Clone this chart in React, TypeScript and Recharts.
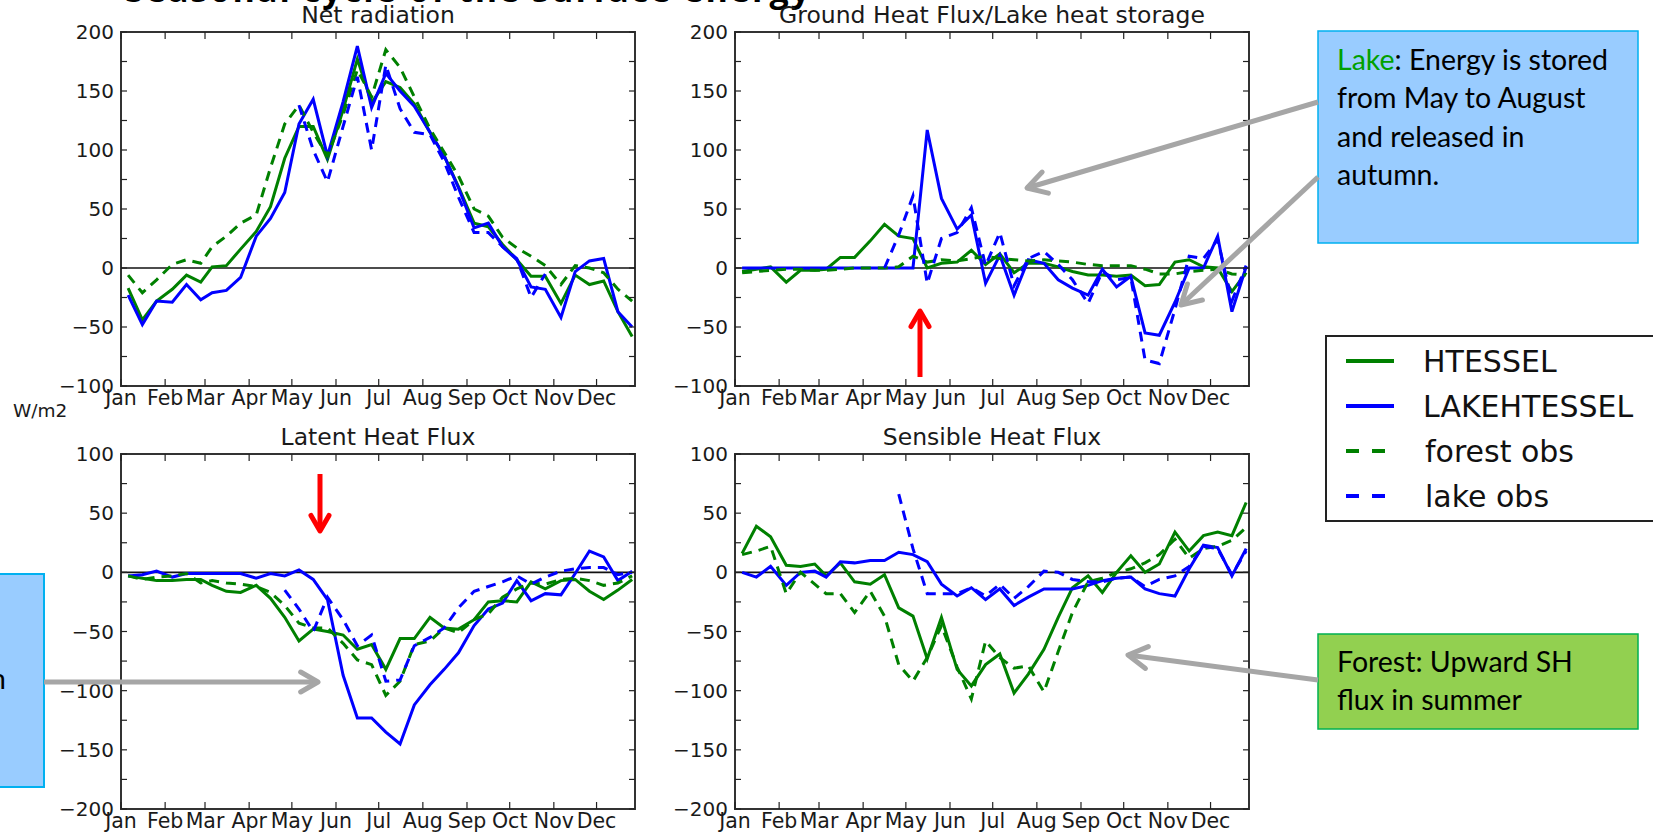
import React from 'react';
import { LineChart, Line, XAxis, YAxis, ReferenceLine, ReferenceArea } from 'recharts';

// ---------- categories ----------
const monthNames = ['Jan', 'Feb', 'Mar', 'Apr', 'May', 'Jun', 'Jul', 'Aug', 'Sep', 'Oct', 'Nov', 'Dec'];
const monthStarts = [0, 31, 59, 90, 120, 151, 181, 212, 243, 273, 304, 334];
// dekad (10-day) centres, day of year
const dekadDays = [5, 15, 25, 36, 46, 56, 64, 74, 84, 95, 105, 115, 125, 135, 145, 156, 166, 176, 186, 196, 206, 217, 227, 237, 248, 258, 268, 278, 288, 298, 309, 319, 329, 339, 349, 359];
const xDomain: [number, number] = [0, 361];
const topYTicks = [-100, -75, -50, -25, 0, 25, 50, 75, 100, 125, 150, 175, 200];
const bottomYTicks = [-200, -175, -150, -125, -100, -75, -50, -25, 0, 25, 50, 75, 100];

// ---------- Net radiation ----------
const netHtessel = [-17, -44, -28, -18, -6, -12, 1, 2, 16, 31, 52, 93, 120, 120, 92, 134, 177, 140, 158, 153, 139, 115, 95, 69, 38, 35, 20, 7, -7, -7, -30, -6, -14, -11, -37, -58];
const netLakeHtessel = [-23, -48, -28, -29, -14, -27, -21, -19, -8, 27, 42, 64, 122, 143, 95, 141, 188, 136, 165, 150, 137, 115, 95, 68, 34, 38, 18, 7, -16, -18, -42, -3, 6, 8, -37, -50];
const netForestObs = [-6, -21, -10, 3, 7, 4, 18, 27, 38, 45, 85, 122, 138, 115, 95, 130, 168, 145, 185, 170, 145, 118, 98, 78, 50, 44, 26, 17, 10, 2, -14, 2, 0, -4, -18, -28];
const netLakeObs = [null, null, null, null, null, null, null, null, null, null, null, null, 138, 100, 73, 120, 162, 100, 172, 135, 115, 113, 90, 60, 30, 30, 18, 8, -25, -5, null, null, null, null, null, null];

// ---------- Ground heat flux / lake heat storage ----------
const ghfHtessel = [-3, -1, 1, -12, -2, -2, -1, 9, 9, 23, 37, 27, 25, 0, 4, 5, 15, 3, 12, -4, 4, 4, 1, -3, -6, -6, -7, -6, -15, -14, 5, 7, 1, 0, -20, -4];
const ghfLakeHtessel = [0, 0, 0, 0, 0, 0, 0, 0, 0, 0, 0, 0, 0, 117, 59, 33, 45, -13, 11, -23, 7, 4, -10, -17, -23, -1, -16, -7, -55, -57, -29, 0, 0, 27, -37, 1];
const ghfForestObs = [-4, -3, -2, -1, -1, -2, -2, -1, 0, 0, 0, 1, 10, 5, 7, 6, 8, 10, 8, 7, 6, 7, 6, 5, 3, 2, 2, 2, -1, -5, -5, -3, -2, -1, -5, -6];
const ghfLakeObs = [null, null, null, null, null, null, null, null, null, null, 0, 28, 61, -13, 25, 30, 51, 2, 30, -15, 8, 14, 3, -10, -30, -3, -10, -8, -78, -81, -35, 10, 8, 24, -28, 2];

// ---------- Latent heat flux ----------
const latHtessel = [-3, -5, -7, -7, -6, -6, -11, -16, -17, -11, -22, -38, -58, -48, -50, -53, -65, -61, -82, -56, -56, -38, -47, -48, -40, -25, -24, -25, -8, -14, -7, -6, -16, -23, -15, -6];
const latLakeHtessel = [-3, -2, 1, -4, -1, -1, -1, -1, -1, -5, -1, -3, 2, -6, -23, -87, -123, -123, -135, -145, -112, -95, -82, -68, -45, -31, -26, -7, -24, -18, -19, -1, 18, 13, -7, 1];
const latForestObs = [-3, -6, -4, -3, -1, -9, -7, -9, -10, -12, -17, -28, -43, -47, -47, -60, -74, -78, -104, -92, -61, -58, -47, -51, -40, -35, -21, -14, -9, -10, -6, -5, -7, -11, -9, -3];
const latLakeObs = [null, null, null, null, null, null, null, null, null, null, null, -15, -31, -50, -21, -40, -62, -53, -92, -91, -62, -55, -47, -30, -16, -12, -8, -3, -10, -4, 1, 3, 4, 4, -2, 0];

// ---------- Sensible heat flux ----------
const senHtessel = [16, 39, 30, 6, 5, 7, -3, 8, -8, -10, -2, -30, -37, -73, -38, -82, -96, -78, -69, -102, -86, -65, -38, -13, -3, -17, 0, 14, 0, 7, 34, 18, 31, 34, 31, 59];
const senLakeHtessel = [0, -4, 5, -11, 0, 1, -4, 9, 8, 10, 10, 17, 15, 9, -10, -20, -13, -23, -14, -28, -21, -14, -14, -14, -11, -7, -5, -4, -14, -18, -20, 3, 23, 21, -3, 20];
const senForestObs = [15, 18, 22, -18, 0, -10, -18, -18, -34, -16, -37, -78, -92, -72, -45, -80, -107, -58, -72, -81, -79, -101, -67, -34, -8, -5, 0, 3, 8, 15, 28, 12, 20, 22, 27, 38];
const senLakeObs = [null, null, null, null, null, null, null, null, null, null, null, 66, 20, -18, -18, -18, -13, -20, -10, -22, -12, 1, 0, -6, -8, -8, -5, -4, -12, -6, -3, 5, 22, 20, -2, 18];

const seriesNames = ['HTESSEL', 'LAKEHTESSEL', 'forest obs', 'lake obs'];

// ---------- styling ----------
const GREEN = '#008000';
const BLUE = '#0000ff';
const AXIS_FONT = "'DejaVu Sans', sans-serif";
const TEXT_COLOR = '#1a1a1a';
const LW = 3;
const DASH = '10 7';

type Row = { day: number; ht: number | null; lk: number | null; fo: number | null; lo: number | null };

function buildRows(ht: (number | null)[], lk: (number | null)[], fo: (number | null)[], lo: (number | null)[]): Row[] {
  return dekadDays.map((d, i) => ({ day: d, ht: ht[i], lk: lk[i], fo: fo[i], lo: lo[i] }));
}

const fmt = (v: number) => (v < 0 ? '\u2212' + Math.abs(v) : String(v));

type PanelProps = {
  rows: Row[];
  yTicks: number[];
  left: number;
  top: number;
  plotW: number;
  plotH: number;
};

const ML = 70;
const MT = 12;
const MR = 12;
const XH = 24;

function Panel({ rows, yTicks, left, top, plotW, plotH }: PanelProps) {
  const yMin = yTicks[0];
  const yMax = yTicks[yTicks.length - 1];
  const width = ML + plotW + MR;
  const height = MT + plotH + XH;

  const renderXTick = (p: any) => {
    const { x, y, payload } = p;
    const idx = monthStarts.indexOf(payload.value);
    return (
      <g>
        <line x1={x} x2={x} y1={y} y2={y - 7} stroke="#222" strokeWidth={1.2} />
        <line x1={x} x2={x} y1={y - plotH} y2={y - plotH + 7} stroke="#222" strokeWidth={1.2} />
        <text x={x} y={y + 19} textAnchor="middle" fontSize={20.5} fontFamily={AXIS_FONT} fill={TEXT_COLOR}>
          {idx >= 0 ? monthNames[idx] : ''}
        </text>
      </g>
    );
  };

  const renderYTick = (p: any) => {
    const { x, y, payload } = p;
    const v = payload.value as number;
    const labelled = v % 50 === 0;
    return (
      <g>
        <line x1={x} x2={x + 6} y1={y} y2={y} stroke="#222" strokeWidth={1.2} />
        <line x1={x + plotW} x2={x + plotW - 6} y1={y} y2={y} stroke="#222" strokeWidth={1.2} />
        {labelled ? (
          <text x={x - 7} y={y + 7} textAnchor="end" fontSize={20} fontFamily={AXIS_FONT} fill={TEXT_COLOR}>
            {fmt(v)}
          </text>
        ) : null}
      </g>
    );
  };

  return (
    <div style={{ position: 'absolute', left: left - ML, top: top - MT, width, height }}>
      <LineChart width={width} height={height} data={rows} margin={{ top: MT, right: MR, bottom: 0, left: 0 }} style={{ overflow: 'visible' }}>
        <XAxis
          dataKey="day"
          type="number"
          domain={xDomain}
          ticks={monthStarts}
          interval={0}
          allowDataOverflow
          axisLine={false}
          tickLine={false}
          tickSize={0}
          tickMargin={0}
          height={XH}
          tick={renderXTick}
        />
        <YAxis
          type="number"
          domain={[yMin, yMax]}
          ticks={yTicks}
          interval={0}
          allowDataOverflow
          axisLine={false}
          tickLine={false}
          tickSize={0}
          tickMargin={0}
          width={ML}
          tick={renderYTick}
        />
        <ReferenceLine y={0} stroke="#111" strokeWidth={1.6} />
        <Line dataKey="ht" name={seriesNames[0]} stroke={GREEN} strokeWidth={LW} dot={false} isAnimationActive={false} type="linear" />
        <Line dataKey="lk" name={seriesNames[1]} stroke={BLUE} strokeWidth={LW} dot={false} isAnimationActive={false} type="linear" />
        <Line dataKey="fo" name={seriesNames[2]} stroke={GREEN} strokeWidth={LW} strokeDasharray={DASH} dot={false} isAnimationActive={false} type="linear" />
        <Line dataKey="lo" name={seriesNames[3]} stroke={BLUE} strokeWidth={LW} strokeDasharray={DASH} dot={false} isAnimationActive={false} type="linear" />
        <ReferenceArea x1={xDomain[0]} x2={xDomain[1]} y1={yMin} y2={yMax} fill="none" fillOpacity={0} stroke="#333" strokeWidth={2} ifOverflow="visible" />
      </LineChart>
    </div>
  );
}

function chevron(x1: number, y1: number, x2: number, y2: number, len: number, ang: number) {
  const a = Math.atan2(y2 - y1, x2 - x1);
  const p1x = x2 - len * Math.cos(a - ang);
  const p1y = y2 - len * Math.sin(a - ang);
  const p2x = x2 - len * Math.cos(a + ang);
  const p2y = y2 - len * Math.sin(a + ang);
  return `M${p1x},${p1y} L${x2},${y2} L${p2x},${p2y}`;
}

function Arrow({ x1, y1, x2, y2, color, w, len }: { x1: number; y1: number; x2: number; y2: number; color: string; w: number; len: number }) {
  return (
    <g>
      <line x1={x1} y1={y1} x2={x2} y2={y2} stroke={color} strokeWidth={w} />
      <path d={chevron(x1, y1, x2, y2, len, Math.PI / 6)} fill="none" stroke={color} strokeWidth={w} strokeLinecap="round" strokeLinejoin="round" />
    </g>
  );
}

const BOX_FONT = "Lato, 'Open Sans', sans-serif";
const BOX_FS = 28.5;

const panels = [
  { title: 'Net radiation', rows: buildRows(netHtessel, netLakeHtessel, netForestObs, netLakeObs), yTicks: topYTicks, left: 121, top: 32, plotW: 514, plotH: 354 },
  { title: 'Ground Heat Flux/Lake heat storage', rows: buildRows(ghfHtessel, ghfLakeHtessel, ghfForestObs, ghfLakeObs), yTicks: topYTicks, left: 735, top: 32, plotW: 514, plotH: 354 },
  { title: 'Latent Heat Flux', rows: buildRows(latHtessel, latLakeHtessel, latForestObs, latLakeObs), yTicks: bottomYTicks, left: 121, top: 454, plotW: 514, plotH: 355 },
  { title: 'Sensible Heat Flux', rows: buildRows(senHtessel, senLakeHtessel, senForestObs, senLakeObs), yTicks: bottomYTicks, left: 735, top: 454, plotW: 514, plotH: 355 },
];

export default function App() {
  return (
    <div style={{ position: 'absolute', left: 0, top: 0, width: 1653, height: 833, background: '#fff', overflow: 'hidden' }}>
      {panels.map((p) => (
        <Panel key={p.title} rows={p.rows} yTicks={p.yTicks} left={p.left} top={p.top} plotW={p.plotW} plotH={p.plotH} />
      ))}
      <svg width={1653} height={833} style={{ position: 'absolute', left: 0, top: 0, pointerEvents: 'none' }}>
        {/* cut-off slide heading (only its lower edge shows) */}
        <text x={125} y={2} fontSize={34} fontWeight="bold" fontFamily="'Open Sans', sans-serif" fill="#000" textLength={685}>
          Seasonal cycle of the surface energy
        </text>

        {panels.map((p) => (
          <text key={'t' + p.title} x={p.left + p.plotW / 2} y={p.top - 9} textAnchor="middle" fontSize={23.5} fontFamily={AXIS_FONT} fill={TEXT_COLOR}>
            {p.title}
          </text>
        ))}

        <text x={13} y={417} fontSize={18.5} fontFamily={AXIS_FONT} fill={TEXT_COLOR}>W/m2</text>

        {/* left blue box (cut off) */}
        <rect x={-4} y={574} width={48} height={213} fill="#99ccff" stroke="#00b0f0" strokeWidth={2} />
        <text x={-10} y={689} fontSize={BOX_FS} fontFamily={BOX_FONT} fill="#000">n</text>
        <Arrow x1={44} y1={682} x2={318} y2={682} color="#a6a6a6" w={5} len={20} />

        {/* lake box */}
        <rect x={1318} y={31} width={320} height={212} fill="#99ccff" stroke="#00b0f0" strokeWidth={1.5} />
        <text x={1337} y={70} fontSize={BOX_FS} fontFamily={BOX_FONT} fill="#000">
          <tspan fill="#00a000">Lake</tspan>: Energy is stored
        </text>
        <text x={1337} y={108} fontSize={BOX_FS} fontFamily={BOX_FONT} fill="#000">from May to August</text>
        <text x={1337} y={147} fontSize={BOX_FS} fontFamily={BOX_FONT} fill="#000">and released in</text>
        <text x={1337} y={185} fontSize={BOX_FS} fontFamily={BOX_FONT} fill="#000">autumn.</text>
        <Arrow x1={1318} y1={102} x2={1027} y2={188} color="#a6a6a6" w={5} len={22} />
        <Arrow x1={1318} y1={177} x2={1181} y2={305} color="#a6a6a6" w={5} len={22} />

        {/* forest box */}
        <rect x={1318} y={634} width={320} height={95} fill="#92d050" stroke="#00b050" strokeWidth={1.5} />
        <text x={1337} y={672} fontSize={BOX_FS} fontFamily={BOX_FONT} fill="#000">Forest: Upward SH</text>
        <text x={1337} y={710} fontSize={BOX_FS} fontFamily={BOX_FONT} fill="#000">flux in summer</text>
        <Arrow x1={1318} y1={680} x2={1128} y2={655} color="#a6a6a6" w={5} len={22} />

        {/* red arrows */}
        <Arrow x1={920} y1={377} x2={920} y2={311} color="#ff0000" w={5} len={18} />
        <Arrow x1={320} y1={474} x2={320} y2={531} color="#ff0000" w={5} len={18} />

        {/* legend */}
        <rect x={1326} y={336} width={340} height={185} fill="#fff" stroke="#222" strokeWidth={2} />
        {seriesNames.map((n, i) => {
          const yy = 361 + i * 45;
          const color = i % 2 === 0 ? GREEN : BLUE;
          return (
            <g key={n}>
              <line x1={1346} x2={1394} y1={yy} y2={yy} stroke={color} strokeWidth={4} strokeDasharray={i >= 2 ? '13 13' : undefined} />
              <text x={i >= 2 ? 1425 : 1423} y={yy + 11} fontSize={30} fontFamily={AXIS_FONT} fill="#111">{n}</text>
            </g>
          );
        })}
      </svg>
    </div>
  );
}
